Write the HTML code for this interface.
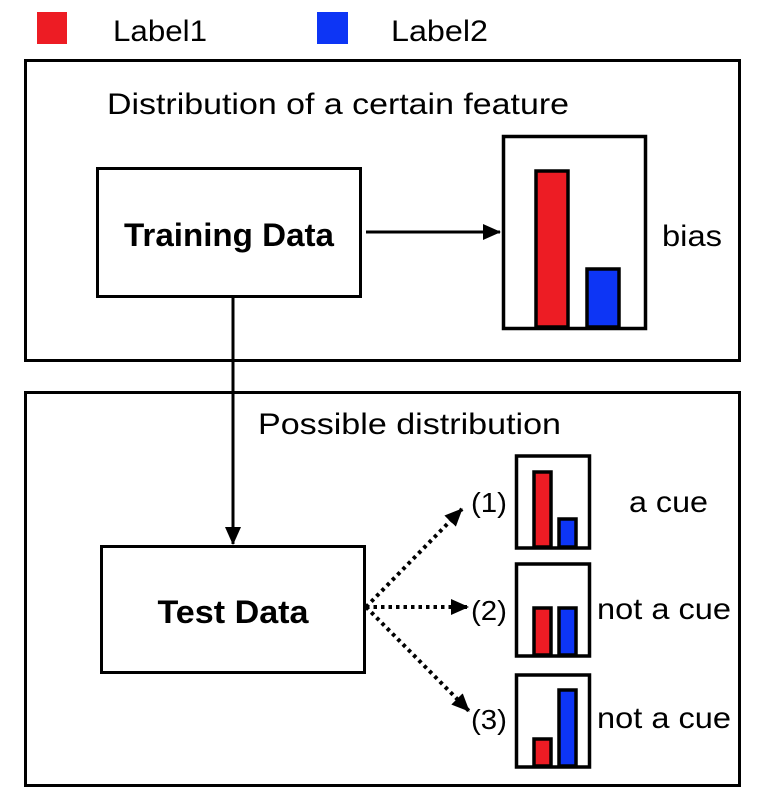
<!DOCTYPE html>
<html><head><meta charset="utf-8"><style>
html,body{margin:0;padding:0;background:#fff}
svg{display:block}
text{font-family:"Liberation Sans",Arial,sans-serif;fill:#000}
</style></head><body>
<svg width="764" height="804" viewBox="0 0 764 804" xmlns="http://www.w3.org/2000/svg">
<defs>
<marker id="ah2" markerWidth="18" markerHeight="16" refX="17" refY="8" orient="auto" markerUnits="userSpaceOnUse" viewBox="0 0 18 16">
<path d="M0,0 L18,8 L0,16 z" fill="#000"/></marker>
</defs>
<rect x="37" y="12" width="30" height="32" fill="#ed1c24"/>
<text x="113" y="41" font-size="30" textLength="94" lengthAdjust="spacingAndGlyphs">Label1</text>
<rect x="317" y="12" width="31" height="32" fill="#0d35f5"/>
<text x="391" y="41" font-size="30" textLength="97" lengthAdjust="spacingAndGlyphs">Label2</text>
<rect x="25.5" y="60.5" width="714" height="300" fill="none" stroke="#000" stroke-width="3"/>
<text x="107" y="114" font-size="30" textLength="462" lengthAdjust="spacingAndGlyphs">Distribution of a certain feature</text>
<rect x="97.5" y="168.5" width="263" height="128" fill="none" stroke="#000" stroke-width="3"/>
<text x="229" y="246" font-size="32" font-weight="bold" text-anchor="middle" textLength="210" lengthAdjust="spacingAndGlyphs">Training Data</text>
<line x1="366" y1="232" x2="500" y2="232" stroke="#000" stroke-width="3" marker-end="url(#ah2)"/>
<rect x="503.5" y="136.5" width="142" height="192" fill="none" stroke="#000" stroke-width="3.5"/>
<rect x="536" y="171" width="32" height="156" fill="#ed1c24" stroke="#000" stroke-width="3.5"/>
<rect x="587" y="269" width="32" height="58" fill="#0d35f5" stroke="#000" stroke-width="3.5"/>
<text x="662" y="246" font-size="30" textLength="60" lengthAdjust="spacingAndGlyphs">bias</text>
<rect x="25.5" y="392.5" width="714" height="393" fill="none" stroke="#000" stroke-width="3"/>
<text x="258" y="434" font-size="30" textLength="303" lengthAdjust="spacingAndGlyphs">Possible distribution</text>
<line x1="233" y1="297" x2="233" y2="544" stroke="#000" stroke-width="3" marker-end="url(#ah2)"/>
<rect x="101.5" y="546.5" width="263" height="126" fill="none" stroke="#000" stroke-width="3"/>
<text x="233" y="623" font-size="32" font-weight="bold" text-anchor="middle" textLength="151" lengthAdjust="spacingAndGlyphs">Test Data</text>
<g stroke="#000" stroke-width="4" stroke-dasharray="3.5 4" fill="none">
<line x1="366" y1="607" x2="462" y2="509" marker-end="url(#ah2)"/>
<line x1="366" y1="607" x2="468" y2="607" marker-end="url(#ah2)"/>
<line x1="366" y1="607" x2="469" y2="711" marker-end="url(#ah2)"/>
</g>
<text x="471" y="512" font-size="28" textLength="36" lengthAdjust="spacingAndGlyphs">(1)</text>
<text x="471" y="620" font-size="28" textLength="36" lengthAdjust="spacingAndGlyphs">(2)</text>
<text x="471" y="729" font-size="28" textLength="36" lengthAdjust="spacingAndGlyphs">(3)</text>
<g stroke="#000" stroke-width="3.5">
<rect x="516.5" y="456" width="73" height="92" fill="none"/>
<rect x="534" y="472" width="17" height="75" fill="#ed1c24"/>
<rect x="559" y="519" width="17" height="28" fill="#0d35f5"/>
<rect x="516.5" y="564" width="73" height="92" fill="none"/>
<rect x="534" y="608" width="17" height="47" fill="#ed1c24"/>
<rect x="559" y="608" width="17" height="47" fill="#0d35f5"/>
<rect x="516.5" y="675" width="73" height="92" fill="none"/>
<rect x="534" y="739" width="17" height="27" fill="#ed1c24"/>
<rect x="559" y="690" width="17" height="76" fill="#0d35f5"/>
</g>
<text x="629" y="512" font-size="30" textLength="79" lengthAdjust="spacingAndGlyphs">a cue</text>
<text x="597" y="619" font-size="30" textLength="134" lengthAdjust="spacingAndGlyphs">not a cue</text>
<text x="597" y="728" font-size="30" textLength="134" lengthAdjust="spacingAndGlyphs">not a cue</text>
</svg>
</body></html>
